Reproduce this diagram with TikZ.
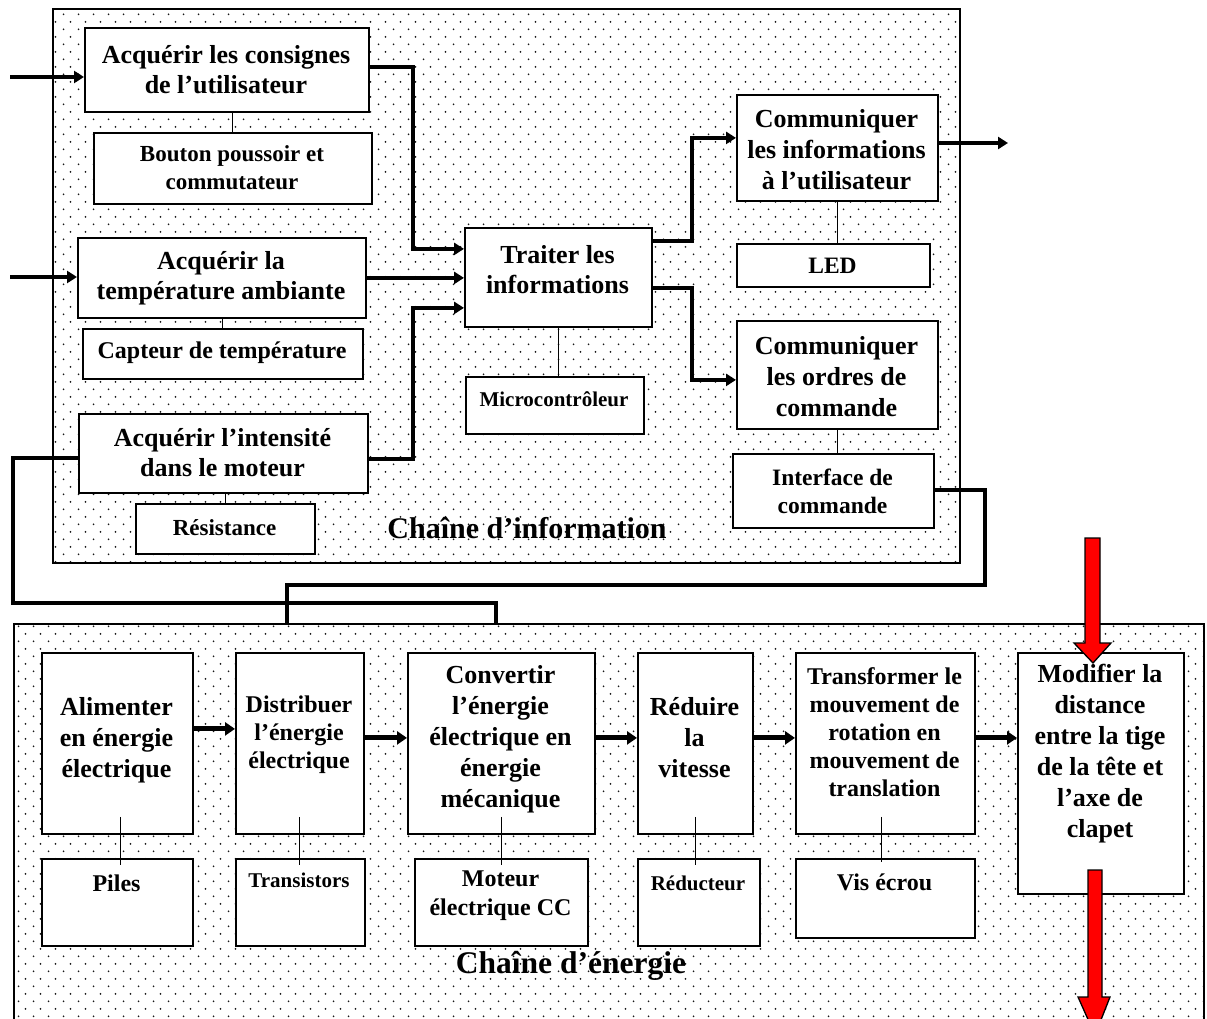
\documentclass[tikz,border=0pt]{standalone}
\usepackage{fontspec}
\setmainfont{Liberation Serif}
\usetikzlibrary{arrows.meta,patterns}
\pgfdeclarepatternformonly{stipple}{\pgfqpoint{0pt}{0pt}}{\pgfqpoint{15pt}{15.4pt}}{\pgfqpoint{15pt}{15.4pt}}{%
  \pgfpathcircle{\pgfqpoint{3.75pt}{3.85pt}}{1pt}%
  \pgfpathcircle{\pgfqpoint{11.25pt}{11.55pt}}{1pt}%
  \pgfusepath{fill}}
\newcommand\fsz[2]{\fontsize{#1}{#2}\selectfont\bfseries}
\begin{document}
\begin{tikzpicture}[x=1pt,y=-1pt,
  frame/.style={draw, line width=1.8pt, pattern=stipple, pattern color=black!90, anchor=north west, inner sep=0pt},
  box/.style={draw, line width=1.8pt, fill=white, anchor=north west, inner sep=0pt},
  txt/.style={align=center, inner sep=0pt},
  link/.style={line width=4.5pt, line join=miter},
  arr/.style={link, -{Triangle[length=10pt,width=12pt]}},
  earr/.style={line width=5pt, -{Triangle[length=10pt,width=13pt]}},
  thinlink/.style={line width=1.1pt},
  redarr/.style={fill=red, draw=black, line width=1.3pt, line join=miter}]
\fill[white] (0,0) rectangle (1207,1019);
\clip (0,0) rectangle (1207,1019);

% frames
\node[frame, minimum width=907pt, minimum height=554pt] (inf) at (52,8) {};
\node[frame, minimum width=1190pt, minimum height=420pt] (ener) at (13,623) {};

% information chain boxes
\node[box, minimum width=284pt, minimum height=84pt] (acq1) at (84,27) {};
\node[box, minimum width=278pt, minimum height=71pt] (bp) at (93,132) {};
\node[box, minimum width=288pt, minimum height=80pt] (acq2) at (77,237) {};
\node[box, minimum width=280pt, minimum height=50pt] (capt) at (82,328) {};
\node[box, minimum width=289pt, minimum height=79pt] (acq3) at (78,413) {};
\node[box, minimum width=179pt, minimum height=50pt] (res) at (135,503) {};
\node[box, minimum width=187pt, minimum height=99pt] (trait) at (464,227) {};
\node[box, minimum width=178pt, minimum height=57pt] (micro) at (465,376) {};
\node[box, minimum width=201pt, minimum height=106pt] (comi) at (736,94) {};
\node[box, minimum width=193pt, minimum height=43pt] (led) at (736,243) {};
\node[box, minimum width=201pt, minimum height=108pt] (como) at (736,320) {};
\node[box, minimum width=201pt, minimum height=74pt] (intf) at (732,453) {};

% energy chain boxes
\node[box, minimum width=151pt, minimum height=181pt] (alim) at (41,652) {};
\node[box, minimum width=128pt, minimum height=181pt] (dist) at (235,652) {};
\node[box, minimum width=187pt, minimum height=181pt] (conv) at (407,652) {};
\node[box, minimum width=115pt, minimum height=181pt] (reduire) at (637,652) {};
\node[box, minimum width=179pt, minimum height=181pt] (trans) at (795,652) {};
\node[box, minimum width=166pt, minimum height=241pt] (modif) at (1017,652) {};
\node[box, minimum width=151pt, minimum height=87pt] (piles) at (41,858) {};
\node[box, minimum width=129pt, minimum height=87pt] (trs) at (235,858) {};
\node[box, minimum width=173pt, minimum height=87pt] (mot) at (414,858) {};
\node[box, minimum width=122pt, minimum height=87pt] (rdc) at (637,858) {};
\node[box, minimum width=179pt, minimum height=79pt] (vis) at (795,858) {};

% texts - information chain
\node[txt, font=\fsz{26}{30}] (tacq1) at (226,70) {Acquérir les consignes\\de l’utilisateur};
\node[txt, font=\fsz{23}{28}] (tbp) at (232,168) {Bouton poussoir et\\commutateur};
\node[txt, font=\fsz{26}{30}] (tacq2) at (221,278) {Acquérir la\\température ambiante};
\node[txt, font=\fsz{24}{28}] (tcapt) at (222,353) {Capteur de température};
\node[txt, font=\fsz{26}{30}] (tacq3) at (222.5,453) {Acquérir l’intensité\\dans le moteur};
\node[txt, font=\fsz{23}{28}] (tres) at (224.5,528) {Résistance};
\node[txt, font=\fsz{26}{30}] (ttrait) at (557.5,270) {Traiter les\\informations};
\node[txt, font=\fsz{21}{26}] (tmicro) at (554,399) {Microcontrôleur};
\node[txt, font=\fsz{26}{31}] (tcomi) at (836.5,150) {Communiquer\\les informations\\à l’utilisateur};
\node[txt, font=\fsz{23.5}{28}] (tled) at (832.5,266) {LED};
\node[txt, font=\fsz{26}{31}] (tcomo) at (836.5,377) {Communiquer\\les ordres de\\commande};
\node[txt, font=\fsz{23.5}{28}] (tintf) at (832.5,491) {Interface de\\commande};
\node[txt, font=\fsz{30}{34}] (tinf) at (527,528) {Chaîne d’information};

% texts - energy chain
\node[txt, font=\fsz{26}{31}] (talim) at (116.5,740) {Alimenter\\en énergie\\électrique};
\node[txt, font=\fsz{24}{28}] (tdist) at (299,735) {Distribuer\\l’énergie\\électrique};
\node[txt, font=\fsz{26}{31}] (tconv) at (500.5,739.5) {Convertir\\l’énergie\\électrique en\\énergie\\mécanique};
\node[txt, font=\fsz{26}{31}] (treduire) at (694.5,738) {Réduire\\la\\vitesse};
\node[txt, font=\fsz{24}{28}] (ttrans) at (884.5,732) {Transformer le\\mouvement de\\rotation en\\mouvement de\\translation};
\node[txt, font=\fsz{26}{31}] (tmodif) at (1100,754) {Modifier la\\distance\\entre la tige\\de la tête et\\l’axe de\\clapet};
\node[txt, font=\fsz{24}{28}] (tpiles) at (116.5,883) {Piles};
\node[txt, font=\fsz{21}{26}] (ttrs) at (299,880.5) {Transistors};
\node[txt, font=\fsz{24}{29}] (tmot) at (500.5,895.5) {Moteur\\électrique CC};
\node[txt, font=\fsz{21}{26}] (trdc) at (698,883) {Réducteur};
\node[txt, font=\fsz{24}{28}] (tvis) at (884.5,882) {Vis écrou};
\node[txt, font=\fsz{31.5}{36}] (tener) at (571,966) {Chaîne d’énergie};

% thin connectors - information chain
\draw[thinlink] (bp.north) -- (bp.north |- acq1.south);
\draw[thinlink] (capt.north) -- (capt.north |- acq2.south);
\draw[thinlink] (res.north) -- (res.north |- acq3.south);
\draw[thinlink] (trait.south) -- (trait.south |- micro.north);
\draw[thinlink] (comi.south) -- (comi.south |- led.north);
\draw[thinlink] (como.south) -- (como.south |- intf.north);

% thin connectors - energy chain
\draw[thinlink] ([xshift=3.5pt,yshift=18pt]alim.south) -- ++(0,48);
\draw[thinlink] ([yshift=18pt]dist.south) -- ++(0,48);
\draw[thinlink] ([yshift=18pt]conv.south) -- ++(0,48);
\draw[thinlink] ([yshift=18pt]reduire.south) -- ++(0,48);
\draw[thinlink] ([xshift=-3.5pt,yshift=18pt]trans.south) -- ++(0,45);

% thick arrows - information chain
\coordinate (i1) at (10,77);
\draw[arr] (i1) -- (i1 -| acq1.west);
\coordinate (i2) at (10,277);
\draw[arr] (i2) -- (i2 -| acq2.west);
\coordinate (k1) at (413,67);
\draw[arr] (k1 -| acq1.east) -- (k1) |- ([yshift=28.5pt]trait.west);
\draw[arr] (acq2.east) -- (acq2.east -| trait.west);
\coordinate (k2) at (413,459);
\draw[arr] (k2 -| acq3.east) -- (k2) |- ([yshift=-30.5pt]trait.west);
\coordinate (k3) at (692,241);
\draw[arr] (k3 -| trait.east) -- (k3) |- ([yshift=10pt]comi.west);
\coordinate (k4) at (692,288);
\draw[arr] (k4 -| trait.east) -- (k4) |- ([yshift=-5pt]como.west);
\coordinate (o1) at (1008,143);
\draw[arr] (o1 -| comi.east) -- (o1);

% links information -> energy
\coordinate (k5) at (985,585);
\coordinate (e1) at (287,623);
\draw[link] ([yshift=1pt]intf.east) -| (k5) -| (e1);
\coordinate (k6) at (13,603);
\coordinate (e2) at (496,623);
\draw[link] ([yshift=-4.5pt]acq3.west) -| (k6) -| (e2);

% energy arrows
\path ([yshift=14.5pt]alim.east) coordinate (a1);
\draw[earr] (a1) -- (a1 -| dist.west);
\path ([yshift=5.5pt]dist.east) coordinate (a2);
\draw[earr] (a2) -- (a2 -| conv.west);
\path ([yshift=5.5pt]conv.east) coordinate (a3);
\draw[earr] (a3) -- (a3 -| reduire.west);
\path ([yshift=5.5pt]reduire.east) coordinate (a4);
\draw[earr] (a4) -- (a4 -| trans.west);
\path ([yshift=5.5pt]trans.east) coordinate (a5);
\draw[earr] (a5) -- (a5 -| modif.west);

% red arrows
\draw[redarr] (1085,538) -- (1100,538) -- (1100,643) -- (1111,643) -- (1093,663) -- (1074,643) -- (1085,643) -- cycle;
\draw[redarr] (1088,870) -- (1102,870) -- (1102,997) -- (1110,997) -- (1095,1035) -- (1078,997) -- (1088,997) -- cycle;
\end{tikzpicture}
\end{document}
